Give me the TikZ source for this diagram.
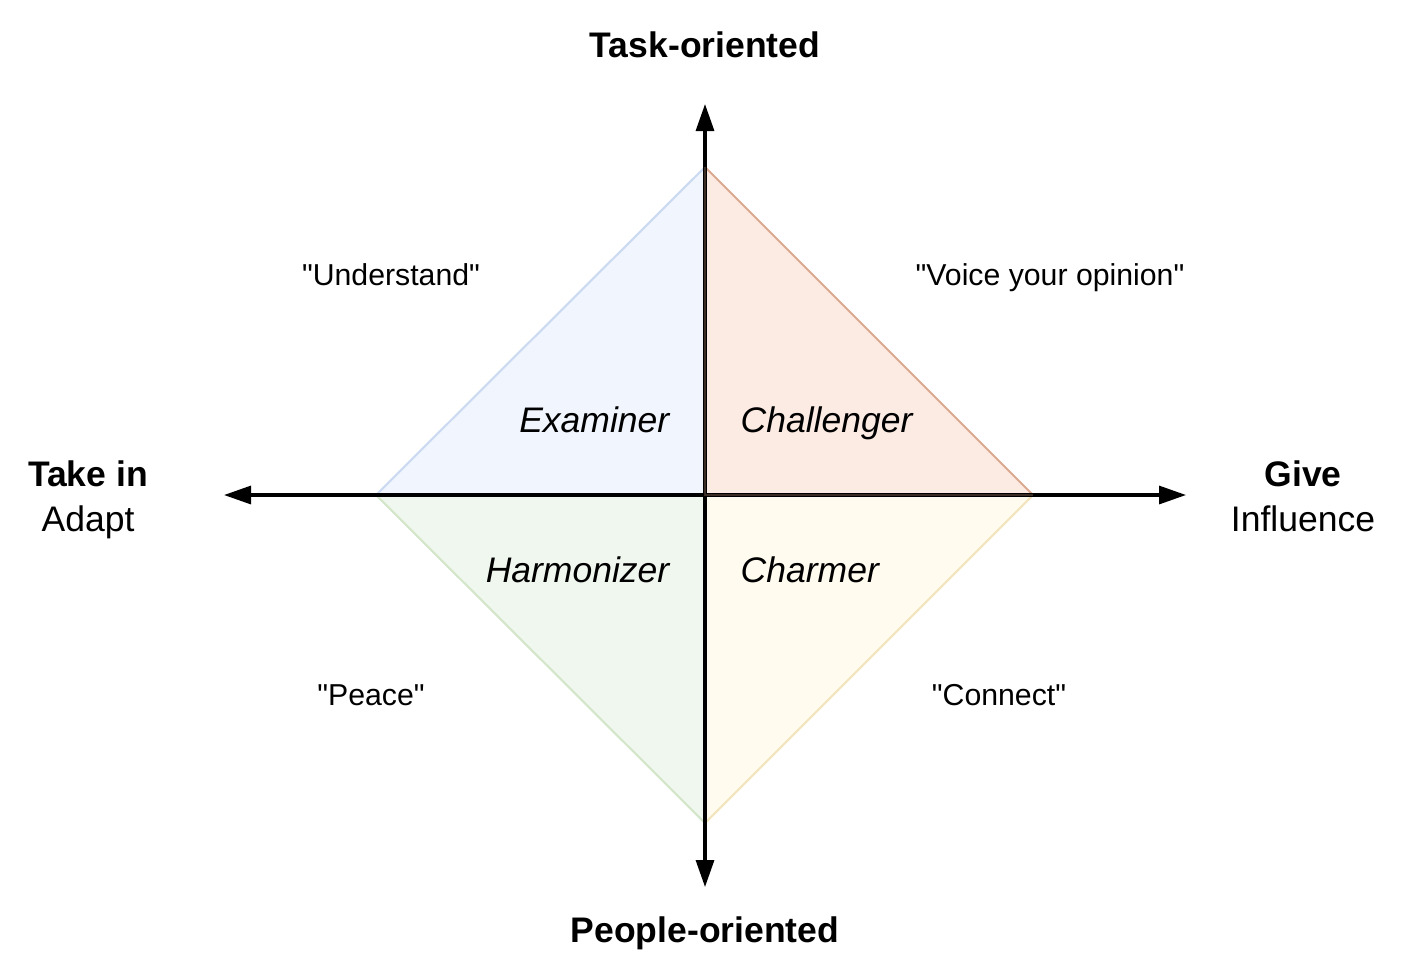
\documentclass[tikz,border=0pt]{standalone}
\usepackage{fontspec}
\setmainfont{Liberation Sans}[Ligatures=TeXOff]
\usetikzlibrary{arrows.meta}
\definecolor{exfill}{HTML}{F1F6FE}
\definecolor{exline}{HTML}{CBDAF1}
\definecolor{chfill}{HTML}{FCEBE3}
\definecolor{chline}{HTML}{DCA88F}
\definecolor{hafill}{HTML}{F0F7EF}
\definecolor{haline}{HTML}{D3E6CA}
\definecolor{cmfill}{HTML}{FFFBEF}
\definecolor{cmline}{HTML}{F2E4BC}
\tikzset{
  axis/.style={line width=0.9pt, -{Triangle[length=0.27cm,width=0.18cm]}},
  quad/.style={line width=0.6pt, line join=miter},
  big/.style={font=\fontsize{10.1}{12}\selectfont, inner sep=0pt, anchor=base},
  bigb/.style={big, font=\fontsize{10.1}{12}\selectfont\bfseries},
  role/.style={big, font=\fontsize{10.1}{12}\selectfont\itshape},
  motto/.style={font=\fontsize{8.6}{10}\selectfont, inner sep=0pt, anchor=base},
}
\begin{document}
\begin{tikzpicture}[x=0.01cm, y=-0.01cm]
\useasboundingbox (0,0) rectangle (1410,975);

% corners of the diamond and its centre
\coordinate (c) at (705,495);
\coordinate (t) at (705,167);
\coordinate (r) at (1033,495);
\coordinate (b) at (705,823);
\coordinate (l) at (376,495);

% the four quadrant triangles
\filldraw[quad, fill=exfill, draw=exline] (c) -- (l) -- (t) -- cycle;
\filldraw[quad, fill=hafill, draw=haline] (c) -- (l) -- (b) -- cycle;
\filldraw[quad, fill=cmfill, draw=cmline] (c) -- (r) -- (b) -- cycle;
\filldraw[quad, fill=chfill, draw=chline] (c) -- (r) -- (t) -- cycle;

% axis end points
\coordinate (axl) at (224,495);
\coordinate (axr) at (1186,495);
\coordinate (axt) at (705,104);
\coordinate (axb) at (705,887);

\draw[axis] (c) -- (axl);
\draw[axis] (c) -- (axr);
\draw[axis] (c) -- (axt);
\draw[axis] (c) -- (axb);
% challenger outline over the axes
\draw[quad, draw=chline!60!black, opacity=0.45] (t) -- (c) -- (r);

% axis labels
\node[bigb] (task) at (705,57) {Task-oriented};
\node[bigb] (people) at (705,942) {People-oriented};
\node[bigb] (takein) at (88,486) {Take in};
\node[big] (adapt) at (88,531) {Adapt};
\node[bigb] (give) at (1303,486) {Give};
\node[big] (influence) at (1303,531) {Influence};

% quadrant roles
\node[role, anchor=base east] (examiner) at (670,432) {Examiner};
\node[role, anchor=base west] (challenger) at (740,432) {Challenger};
\node[role, anchor=base east] (harmonizer) at (670,582) {Harmonizer};
\node[role, anchor=base west] (charmer) at (740,582) {Charmer};

% mottos
\node[motto] (understand) at (391,285) {"Understand"};
\node[motto] (voice) at (1050,285) {"Voice your opinion"};
\node[motto] (peace) at (371,705) {"Peace"};
\node[motto] (connect) at (999,705) {"Connect"};
\end{tikzpicture}
\end{document}
